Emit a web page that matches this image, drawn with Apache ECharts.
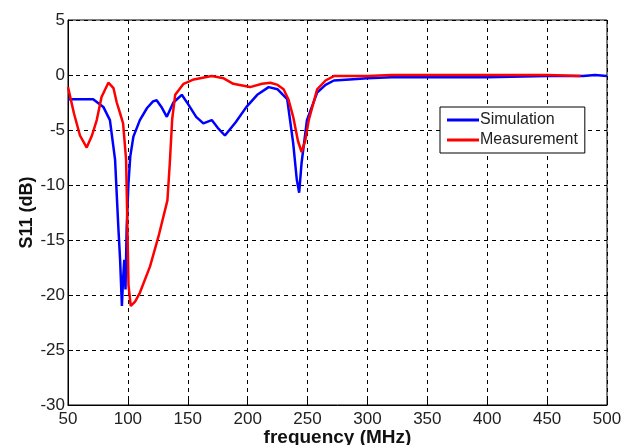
<!DOCTYPE html>
<html>
<head>
<meta charset="utf-8">
<script src="https://cdn.jsdelivr.net/npm/echarts@6/dist/echarts.min.js"></script>
<style>
  html, body { margin: 0; padding: 0; background: #fff; }
  #chart { width: 622px; height: 445px; }
</style>
</head>
<body>
<div id="chart"></div>
<script>
// S11 vs frequency
var simFreq = [50, 60, 71, 79.5, 85, 89.3, 92, 93.5, 95, 96, 97, 98, 99, 100.5, 102, 104.6, 110, 116, 121, 124, 128, 132.5, 138, 145, 150, 157, 163, 170, 175, 181, 190, 199, 208, 217.5, 225, 233, 238, 241, 243, 245, 249.5, 258, 265, 272, 285, 300, 320, 350, 400, 450, 480, 490, 500];
var simS11 = [-2.2, -2.2, -2.2, -2.9, -4.1, -7.7, -13.8, -16.8, -21.0, -18.5, -16.8, -19.5, -13.8, -9.8, -7.4, -5.6, -4.1, -3.0, -2.4, -2.3, -2.9, -3.8, -2.5, -1.8, -2.6, -3.8, -4.4, -4.1, -4.8, -5.5, -4.3, -2.9, -1.8, -1.1, -1.3, -2.2, -6.2, -9.5, -10.7, -8.0, -4.1, -1.6, -0.9, -0.5, -0.4, -0.3, -0.2, -0.2, -0.2, -0.1, -0.1, 0.0, -0.1];

var measFreq = [50, 55, 60, 65.6, 70, 74, 78, 83.7, 88, 90.7, 93, 96, 98.5, 99.6, 100.5, 102.4, 106, 110, 118.5, 125.5, 133, 135, 137, 139.5, 146.5, 155, 170, 180, 188, 202, 212, 219, 225, 230, 234, 238, 242, 245, 248, 251, 258, 265, 272, 300, 320, 350, 400, 450, 478];
var measS11 = [-1.1, -3.5, -5.5, -6.6, -5.5, -4.1, -2.0, -0.7, -1.2, -2.5, -3.3, -4.4, -7.7, -13.8, -19.1, -21.0, -20.6, -19.8, -17.4, -14.7, -11.4, -8.0, -4.0, -1.8, -0.8, -0.4, -0.1, -0.3, -0.8, -1.1, -0.8, -0.7, -0.9, -1.3, -2.2, -3.8, -6.0, -7.0, -6.0, -4.1, -1.3, -0.5, -0.1, -0.1, 0.0, 0.0, 0.0, 0.0, -0.1];

function pairs(xs, ys) {
  return xs.map(function (x, i) { return [x, ys[i]]; });
}

var font = '"Liberation Sans", Arial, sans-serif';
var chart = echarts.init(document.getElementById('chart'));
chart.setOption({
  animation: false,
  backgroundColor: '#fff',
  grid: {
    left: 68, top: 20, right: 15, bottom: 40,
    outerBoundsMode: 'none',
    show: true, borderColor: '#000', borderWidth: 1, backgroundColor: 'transparent'
  },
  legend: {
    orient: 'vertical',
    left: 440, top: 107,
    padding: [5, 7, 5, 7],
    itemGap: 4,
    itemWidth: 32, itemHeight: 3,
    backgroundColor: '#fff',
    borderColor: '#000', borderWidth: 1, borderRadius: 0,
    textStyle: { fontFamily: font, fontSize: 16, color: '#222', padding: [0, 0, 0, -4] },
    data: [
      { name: 'Simulation', icon: 'rect' },
      { name: 'Measurement', icon: 'rect' }
    ]
  },
  xAxis: {
    type: 'value', min: 50, max: 500, interval: 50,
    name: 'frequency (MHz)', nameLocation: 'middle', nameGap: 23,
    nameMoveOverlap: false,
    nameTextStyle: { fontFamily: font, fontSize: 19, fontWeight: 'bold', color: '#111' },
    axisLine: { show: true, onZero: false, lineStyle: { color: '#000', width: 1 } },
    axisTick: { inside: true, length: 5, lineStyle: { color: '#000' } },
    axisLabel: { fontFamily: font, fontSize: 17, color: '#222', margin: 6 },
    splitLine: { show: true, lineStyle: { color: '#000', type: [4, 4], width: 1 } }
  },
  yAxis: {
    type: 'value', min: -30, max: 5, interval: 5,
    name: 'S11 (dB)', nameLocation: 'middle', nameGap: 32,
    nameMoveOverlap: false,
    nameTextStyle: { fontFamily: font, fontSize: 18, fontWeight: 'bold', color: '#111' },
    axisLine: { show: true, onZero: false, lineStyle: { color: '#000', width: 1 } },
    axisTick: { inside: true, length: 5, lineStyle: { color: '#000' } },
    axisLabel: { fontFamily: font, fontSize: 17, color: '#222', margin: 3 },
    splitLine: { show: true, lineStyle: { color: '#000', type: [4, 4], width: 1 } }
  },
  series: [
    {
      name: 'Simulation', type: 'line', symbol: 'none',
      data: pairs(simFreq, simS11),
      lineStyle: { color: '#0000ff', width: 2.5 },
      itemStyle: { color: '#0000ff' }
    },
    {
      name: 'Measurement', type: 'line', symbol: 'none',
      data: pairs(measFreq, measS11),
      lineStyle: { color: '#ff0000', width: 2.5 },
      itemStyle: { color: '#ff0000' }
    }
  ]
});
</script>
</body>
</html>
